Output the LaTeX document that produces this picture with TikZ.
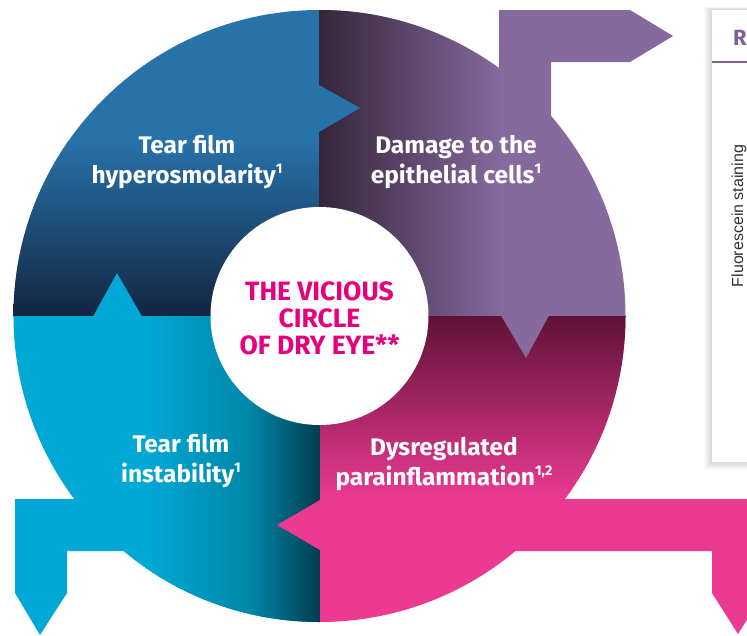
\documentclass[tikz,border=0pt]{standalone}
\usepackage{fontspec}
\setmainfont{Fira Sans}
\newfontfamily\labelfont{Fira Sans}[FakeStretch=1.02]
\newfontfamily\titlefont{Fira Sans}[FakeStretch=1.0]
\newfontfamily\boxfont{Liberation Sans}
\definecolor{tlTop}{HTML}{2872AA}
\definecolor{tlBot}{HTML}{122540}
\definecolor{trStart}{HTML}{33253A}
\definecolor{trEnd}{HTML}{86699D}
\definecolor{brStart}{HTML}{5D1236}
\definecolor{brEnd}{HTML}{EC3A93}
\definecolor{blStart}{HTML}{00A9D5}
\definecolor{blMid}{HTML}{0086A8}
\definecolor{blEnd}{HTML}{003C4E}
\definecolor{titlePink}{HTML}{E5007E}
\definecolor{hdrPurple}{HTML}{7F5F96}
\definecolor{boxText}{HTML}{333333}
\newcommand\supr[1]{\raisebox{0.42em}{\fontsize{14}{14}\selectfont #1}}
\tikzset{
  lbl/.style={align=center, text=white, inner sep=0pt,
    font=\labelfont\bfseries\fontsize{24}{30}\selectfont},
  ttl/.style={align=center, text=titlePink, inner sep=0pt,
    font=\titlefont\bfseries\fontsize{26.5}{27}\selectfont},
}
\begin{document}
\begin{tikzpicture}[x=1pt,y=-1pt]
\useasboundingbox (0,0) rectangle (747,635);
\coordinate (C) at (319.5,316);
% top-left quadrant
\begin{scope}
  \clip (C) circle [radius=306pt];
  \clip (0,0) rectangle (319.5,316);
  \fill[tlTop] (0,0) rectangle (320,317);
  \shade[top color=tlTop, bottom color=tlBot] (0,140) rectangle (320,317);
\end{scope}
% top-right quadrant
\begin{scope}
  \clip (C) circle [radius=306pt];
  \clip (319.5,0) rectangle (640,316);
  \fill[trEnd] (319,0) rectangle (640,317);
  \shade[left color=trStart, right color=trEnd] (319,0) rectangle (500,317);
\end{scope}
% bottom-right quadrant
\begin{scope}
  \clip (C) circle [radius=306pt];
  \clip (319.5,316) rectangle (640,640);
  \fill[brEnd] (319,315) rectangle (640,640);
  \shade[top color=brStart, bottom color=brEnd] (319,315) rectangle (640,500);
\end{scope}
% bottom-left quadrant
\begin{scope}
  \clip (C) circle [radius=306pt];
  \clip (0,316) rectangle (319.5,640);
  \fill[blStart] (0,315) rectangle (320,640);
  \shade[left color=blStart, right color=blMid] (145,315) rectangle (250.5,640);
  \shade[left color=blMid, right color=blEnd] (250,315) rectangle (320,640);
\end{scope}
% notches
\fill[blStart] (93,316.5) -- (117,273) -- (142,316.5) -- cycle;
\fill[tlTop] (319,85) -- (360,108) -- (319,132) -- cycle;
\fill[trEnd] (501,315.5) -- (526,358) -- (549,315.5) -- cycle;
\fill[brEnd] (320,500) -- (277,525) -- (320,550) -- cycle;
% external arrows
\fill[trEnd] (499,150) -- (499,10) -- (630,10) -- (673,36) -- (630,62) -- (551,62) -- (551,150) -- cycle;
\fill[blStart] (130,499) -- (15,499) -- (15,593) -- (40,635) -- (67,593) -- (67,551) -- (130,551) -- cycle;
\fill[brEnd] (500,499) -- (764,499) -- (764,593) -- (738,634) -- (712,593) -- (712,551) -- (500,551) -- cycle;
% hub
\node[circle, fill=white, minimum size=218pt, inner sep=0pt] (hub) at (C) {};
\node[ttl] (title) at (319.5,318) {THE VICIOUS\\CIRCLE\\OF DRY EYE**};
% labels
\node[lbl] (hyper) at (187,162) {Tear film\\hyperosmolarity\supr{1}};
\node[lbl] (damage) at (456,162.5) {Damage to the\\epithelial cells\supr{1}};
\node[lbl] (instab) at (181,461.5) {Tear film\\instability\supr{1}};
\node[lbl] (dysreg) at (444,464) {Dysregulated\\parainflammation\supr{1,2}};
% right panel with soft shadow
\foreach \s in {1,2,...,8}{
  \fill[black, opacity=0.018] (712-\s,10-\s*0.4) rectangle (800,462+\s);
}
\fill[white] (712,10) rectangle (800,462);
\node[anchor=base west, inner sep=0pt, text=hdrPurple,
  font=\fontsize{22}{22}\selectfont\bfseries] (hdr) at (733,45) {R};
\draw[hdrPurple, line width=2pt] (712,62) -- (800,62);
\node[rotate=90, anchor=base, inner sep=0pt, text=boxText,
  font=\boxfont\fontsize{16}{16}\selectfont] (fluo) at (743,216) {Fluorescein staining};
\end{tikzpicture}
\end{document}
